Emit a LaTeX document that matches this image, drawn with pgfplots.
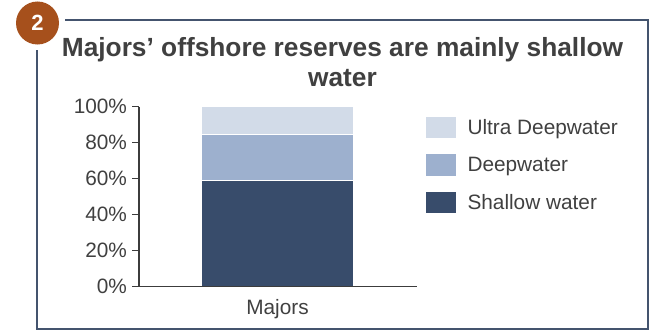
\documentclass[border=0pt]{standalone}
\usepackage{fontspec}
\setmainfont{Liberation Sans}
\usepackage{pgfplots}
\pgfplotsset{compat=1.18}
\definecolor{shallow}{RGB}{56,76,107}
\definecolor{deep}{RGB}{157,176,206}
\definecolor{ultra}{RGB}{210,219,232}
\definecolor{framec}{RGB}{68,84,110}
\definecolor{badge}{RGB}{166,80,28}
\definecolor{txt}{RGB}{64,64,64}
\definecolor{axisc}{RGB}{60,60,60}
\begin{document}
\begin{tikzpicture}[x=1bp,y=1bp]
\path[use as bounding box] (0,0) rectangle (650,330);
% frame
\draw[framec, line width=2bp] (65,310) -- (647.5,310) -- (647.5,1.5) -- (36.5,1.5) -- (36.5,280);
\fill[badge] (37.5,307) circle (21.5);
\node[text=white, font=\bfseries\fontsize{22bp}{24bp}\selectfont] at (37.5,307) {2};
% title
\node[anchor=base, text=txt, font=\bfseries\fontsize{26.3bp}{30bp}\selectfont] at (342.5,274) {Majors’ offshore reserves are mainly shallow};
\node[anchor=base, text=txt, font=\bfseries\fontsize{26.3bp}{30bp}\selectfont] at (342.5,244) {water};
\begin{axis}[
  at={(139bp,43.3bp)}, anchor=south west,
  scale only axis, width=278bp, height=180bp,
  ybar stacked, bar width=153bp,
  xmin=-1, xmax=1.0072, ymin=0, ymax=100,
  axis x line=bottom, axis y line=left,
  axis line style={-, axisc, line width=1.4bp},
  axis on top,
  xtick={0}, xticklabels={Majors},
  x tick style={draw=none},
  ytick={0,20,40,60,80,100},
  yticklabel={\pgfmathprintnumber{\tick}\%},
  y tick style={axisc, line width=1.2bp},
  tick align=outside, major tick length=7bp,
  /pgf/number format/assume math mode=true,
  tick label style={text=txt, font=\fontsize{20.8bp}{24bp}\selectfont},
  xticklabel style={anchor=base, yshift=-20.5bp},
  yticklabel style={xshift=-1.5bp},
  reverse legend,
  legend style={draw=none, fill=none, inner sep=0pt, outer sep=0pt,
    at={(axis description cs:1,1)}, anchor=north west, xshift=9bp, yshift=-10bp,
    nodes={inner sep=0pt, text height=17bp, text depth=3bp, text=txt, font=\fontsize{20.8bp}{24bp}\selectfont, anchor=west},
    row sep=16bp,
    /tikz/every odd column/.append style={column sep=12bp}},
]
\addplot[fill=shallow, draw=white, line width=1.5bp, legend image code/.code={\fill[shallow] (0bp,-10bp) rectangle (28bp,10bp);}] coordinates {(0,59)};
\addlegendentry{Shallow water}
\addplot[fill=deep, draw=white, line width=1.5bp, legend image code/.code={\fill[deep] (0bp,-10bp) rectangle (28bp,10bp);}] coordinates {(0,25.5)};
\addlegendentry{Deepwater}
\addplot[fill=ultra, draw=white, line width=1.5bp, legend image code/.code={\fill[ultra] (0bp,-10bp) rectangle (28bp,10bp);}] coordinates {(0,15.5)};
\addlegendentry{Ultra Deepwater}
\end{axis}
\end{tikzpicture}
\end{document}
